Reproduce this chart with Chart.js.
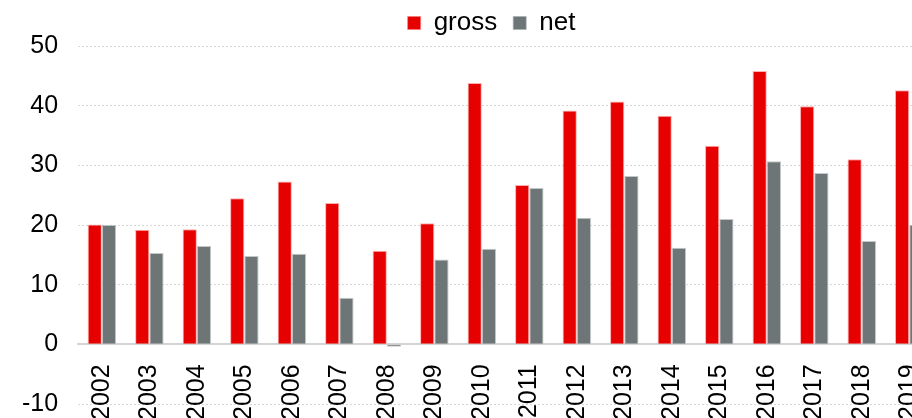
<!DOCTYPE html>
<html lang="en">
<head>
    <meta charset="UTF-8">
    <title>gross / net</title>
    <style>
        html, body {
            margin: 0;
            padding: 0;
            background: #ffffff;
            overflow: hidden;
        }
        #wrap {
            width: 984px;
            height: 445px;
            margin-top: -6px;
        }
    </style>
</head>
<body>
    <div id="wrap">
        <canvas id="grafica" width="984" height="445"></canvas>
    </div>

    <script src="https://cdn.jsdelivr.net/npm/chart.js@4.4.0/dist/chart.umd.min.js"></script>
    <script>
    // years on the category axis
    const years = ['2002', '2003', '2004', '2005', '2006', '2007', '2008', '2009', '2010',
                   '2011', '2012', '2013', '2014', '2015', '2016', '2017', '2018', '2019'];

    // series values
    const gross = [20.1, 19.2, 19.3, 24.5, 27.3, 23.7, 15.7, 20.3, 43.8,
                   26.7, 39.2, 40.7, 38.3, 33.3, 45.8, 39.9, 31.0, 42.6];
    const net   = [20.0, 15.3, 16.5, 14.8, 15.2, 7.8, -0.4, 14.2, 16.0,
                   26.2, 21.2, 28.2, 16.2, 21.0, 30.7, 28.7, 17.3, 20.0];

    // value axis
    const yMin = -10;
    const yMax = 50;
    const yStep = 10;

    const fontFamily = '"Liberation Sans", Arial, sans-serif';

    // legend sits a bit right of the plot's centre
    const legendShift = {
        id: 'legendShift',
        afterLayout(chart) {
            const lg = chart.legend;
            if (lg) {
                lg.left += 24;
                lg.right += 24;
            }
        }
    };

    new Chart(document.getElementById('grafica'), {
        type: 'bar',
        data: {
            labels: years,
            datasets: [
                {
                    label: 'gross',
                    data: gross,
                    backgroundColor: '#e60000',
                    borderColor: 'rgba(255, 120, 120, 0.6)',
                    borderWidth: 1,
                    categoryPercentage: 0.6,
                    barPercentage: 1.0
                },
                {
                    label: 'net',
                    data: net,
                    backgroundColor: '#6e7576',
                    borderColor: 'rgba(170, 175, 176, 0.7)',
                    borderWidth: 1,
                    categoryPercentage: 0.6,
                    barPercentage: 1.0
                }
            ]
        },
        plugins: [legendShift],
        options: {
            responsive: false,
            animation: false,
            layout: {
                padding: { left: 2, right: 51, top: 0, bottom: 0 }
            },
            plugins: {
                legend: {
                    position: 'top',
                    labels: {
                        boxWidth: 13,
                        boxHeight: 13,
                        padding: 16,
                        color: '#000000',
                        font: { family: fontFamily, size: 26 }
                    }
                },
                tooltip: { enabled: false }
            },
            scales: {
                x: {
                    position: { y: 0 },
                    grid: { display: false, drawTicks: false },
                    border: { display: true, color: '#d4d4d4', width: 2 },
                    ticks: {
                        color: '#000000',
                        minRotation: 90,
                        maxRotation: 90,
                        padding: 20,
                        font: { family: fontFamily, size: 25 }
                    }
                },
                y: {
                    min: yMin,
                    max: yMax,
                    grid: {
                        color: '#d6d6d6',
                        lineWidth: 1,
                        drawTicks: false
                    },
                    border: { display: false, dash: [2, 2] },
                    ticks: {
                        stepSize: yStep,
                        color: '#000000',
                        padding: 20,
                        font: { family: fontFamily, size: 25 }
                    }
                }
            }
        }
    });
    </script>
</body>
</html>
